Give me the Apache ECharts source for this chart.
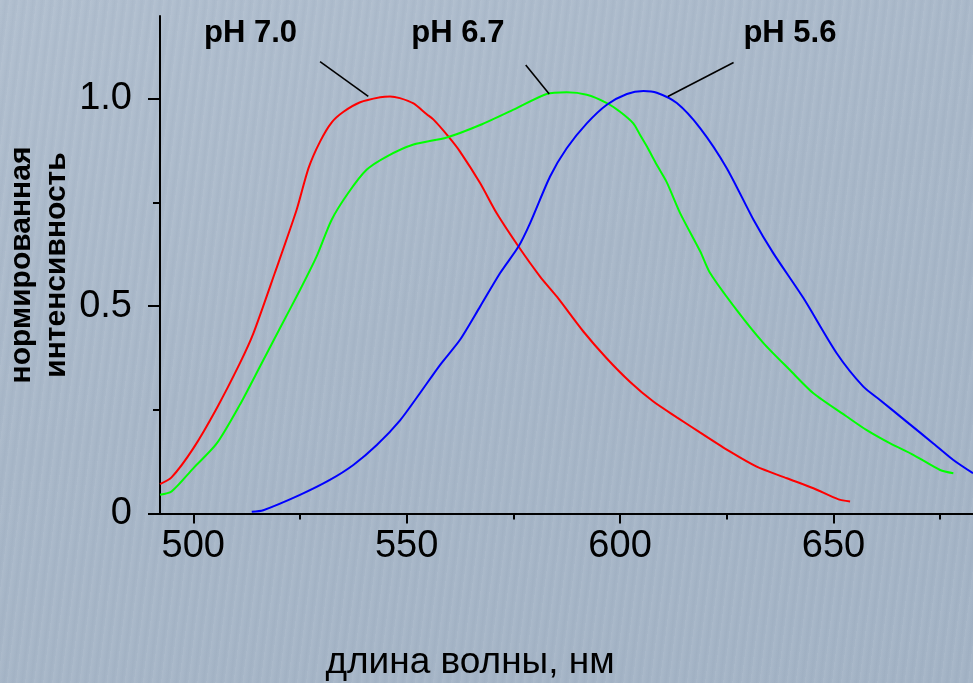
<!DOCTYPE html>
<html>
<head>
<meta charset="utf-8">
<script src="https://cdn.jsdelivr.net/npm/echarts@6/dist/echarts.min.js"></script>
<style>
  html, body { margin: 0; padding: 0; }
  body {
    width: 973px; height: 683px; overflow: hidden;
    background:
      repeating-linear-gradient(97deg, rgba(255,255,255,0.05) 0px, rgba(255,255,255,0.0) 3px, rgba(60,80,110,0.04) 6px, rgba(255,255,255,0.0) 9px),
      linear-gradient(160deg, #b1bfcf 0%, #a9b8c9 45%, #a4b4c6 100%);
  }
  #chart { width: 973px; height: 683px; }
</style>
</head>
<body>
<div id="chart"></div>
<script>
// Emission spectra at three pH values: [wavelength nm, normalised intensity]
const spectrumPH70 = [
  [492.2, 0.071], [494.9, 0.087], [500.0, 0.157], [505.5, 0.254], [510.9, 0.362],
  [514.1, 0.435], [519.1, 0.580], [524.2, 0.732], [527.0, 0.833], [529.7, 0.897],
  [532.4, 0.943], [535.2, 0.969], [539.1, 0.992], [543.8, 1.004], [546.1, 1.006],
  [548.4, 1.002], [551.6, 0.989], [554.7, 0.963], [556.3, 0.950], [559.8, 0.909],
  [562.5, 0.873], [567.2, 0.797], [571.1, 0.724], [576.2, 0.644], [581.3, 0.571],
  [585.2, 0.523], [591.4, 0.439], [596.9, 0.374], [602.3, 0.318], [607.8, 0.270],
  [613.3, 0.232], [618.8, 0.195], [625.8, 0.149], [632.0, 0.113], [639.1, 0.085],
  [645.3, 0.061], [651.2, 0.034], [653.9, 0.029]
];
const spectrumPH67 = [
  [492.2, 0.045], [494.9, 0.053], [500.0, 0.109], [505.5, 0.169], [510.9, 0.262],
  [515.6, 0.354], [520.3, 0.447], [525.0, 0.539], [528.9, 0.620], [532.4, 0.708],
  [536.3, 0.773], [540.6, 0.829], [545.3, 0.861], [551.6, 0.890], [559.4, 0.907],
  [567.2, 0.937], [575.8, 0.978], [582.8, 1.012], [587.5, 1.016], [592.2, 1.010],
  [596.9, 0.990], [600.0, 0.969], [603.1, 0.941], [604.7, 0.913], [606.3, 0.885],
  [608.6, 0.841], [610.9, 0.800], [614.1, 0.724], [618.8, 0.632], [621.1, 0.580],
  [627.3, 0.491], [633.6, 0.411], [639.8, 0.346], [645.3, 0.290], [653.1, 0.234],
  [657.8, 0.201], [663.3, 0.169], [668.8, 0.141], [675.0, 0.105], [678.1, 0.097]
];
const spectrumPH56 = [
  [513.7, 0.004], [516.4, 0.008], [525.0, 0.045], [532.0, 0.081], [537.5, 0.117],
  [543.0, 0.165], [548.4, 0.224], [553.1, 0.290], [557.8, 0.358], [562.5, 0.419],
  [567.2, 0.499], [571.9, 0.580], [576.2, 0.644], [578.9, 0.700], [583.6, 0.813],
  [587.5, 0.881], [592.2, 0.941], [596.9, 0.986], [601.6, 1.012], [605.5, 1.019],
  [608.6, 1.015], [613.3, 0.990], [618.8, 0.929], [625.0, 0.833], [631.3, 0.708],
  [635.9, 0.628], [643.0, 0.519], [650.8, 0.386], [657.0, 0.306], [660.9, 0.274],
  [667.2, 0.221], [673.4, 0.169], [678.1, 0.129], [682.7, 0.097]
];

// Axis ticks and labels
const xMajorTicks = [500, 550, 600, 650];
const xMinorTicks = [525, 575, 625, 675];
const yMajorTicks = [0, 0.5, 1.0];
const yMinorTicks = [0.25, 0.75];
const yTickLabels = ['0', '0.5', '1.0'];
const yAxisTitle = 'нормированная\nинтенсивность';
const xAxisTitle = 'длина волны, нм';

// Curve captions and their leader lines (data coordinates)
const captionText = ['pH 7.0', 'pH 6.7', 'pH 5.6'];
const captionAt = [[513.4, 1.157], [562.0, 1.157], [639.8, 1.157]];
const leaderFrom = [[529.7, 1.090], [577.9, 1.082], [626.6, 1.088]];
const leaderTo = [[541.0, 1.006], [583.4, 1.012], [611.2, 1.006]];

const FONT = '"Liberation Sans", Arial, sans-serif';
const X_MIN = 492.2, X_MAX = 682.7;

const chart = echarts.init(document.getElementById('chart'), null, { renderer: 'canvas' });

const curveSeries = [
  { name: 'pH 7.0', data: spectrumPH70, color: '#ff0000' },
  { name: 'pH 6.7', data: spectrumPH67, color: '#00ff00' },
  { name: 'pH 5.6', data: spectrumPH56, color: '#0000ff' }
].map(s => ({
  type: 'line',
  name: s.name,
  data: s.data,
  showSymbol: false,
  smooth: 0.25,
  lineStyle: { color: s.color, width: 2 },
  itemStyle: { color: s.color },
  z: 3
}));

const leaderSeries = leaderFrom.map((p, i) => ({
  type: 'line',
  data: [p, leaderTo[i]],
  showSymbol: false,
  lineStyle: { color: '#000', width: 1.6 },
  z: 4
}));

const captionSeries = {
  type: 'scatter',
  symbolSize: 0,
  itemStyle: { color: '#000', opacity: 1 },
  data: captionAt.map((p, i) => ({ value: p, name: captionText[i] })),
  label: {
    show: true,
    position: 'inside',
    formatter: p => p.name,
    color: '#000',
    opacity: 1,
    textBorderWidth: 0,
    textBorderColor: 'transparent',
    fontFamily: FONT,
    fontWeight: 'bold',
    fontSize: 31
  },
  z: 5
};

chart.setOption({
  animation: false,
  backgroundColor: 'transparent',
  textStyle: { fontFamily: FONT },
  grid: { left: 160, right: 0, top: 16, bottom: 169.5, containLabel: false, outerBoundsMode: 'none' },
  // vertical axis title, two bold lines reading bottom-to-top
  graphic: [{
    type: 'text',
    x: 39,
    y: 265,
    rotation: Math.PI / 2,
    silent: true,
    style: {
      text: yAxisTitle,
      fill: '#000',
      font: 'bold 30px ' + FONT,
      fontSize: 30,
      fontWeight: 'bold',
      fontFamily: FONT,
      lineHeight: 35,
      align: 'center',
      verticalAlign: 'middle',
      textAlign: 'center',
      textVerticalAlign: 'middle'
    }
  }],
  xAxis: [
    {
      type: 'value',
      min: X_MIN, max: X_MAX,
      position: 'bottom',
      axisLine: { show: true, lineStyle: { color: '#000', width: 2 } },
      axisTick: { show: true, customValues: xMajorTicks, length: 10, lineStyle: { color: '#000', width: 2 } },
      axisLabel: {
        show: true, customValues: xMajorTicks, margin: 14,
        color: '#000', fontSize: 38, fontFamily: FONT,
        formatter: v => String(v)
      },
      splitLine: { show: false },
      name: xAxisTitle,
      nameLocation: 'middle',
      nameGap: 131,
      nameMoveOverlap: false,
      nameTextStyle: { color: '#000', fontSize: 37, fontFamily: FONT, padding: [0, 193, 0, 0] }
    },
    {
      type: 'value',
      min: X_MIN, max: X_MAX,
      position: 'bottom',
      axisLine: { show: false },
      axisTick: { show: true, customValues: xMinorTicks, length: 6, lineStyle: { color: '#000', width: 2 } },
      axisLabel: { show: false },
      splitLine: { show: false }
    }
  ],
  yAxis: [
    {
      type: 'value',
      min: 0, max: 1.2,
      position: 'left',
      axisLine: { show: true, lineStyle: { color: '#000', width: 2 } },
      axisTick: { show: true, customValues: yMajorTicks, length: 12, lineStyle: { color: '#000', width: 2 } },
      axisLabel: {
        show: true, customValues: yMajorTicks, margin: 28,
        color: '#000', fontSize: 38, fontFamily: FONT,
        formatter: v => yTickLabels[yMajorTicks.findIndex(t => Math.abs(t - v) < 1e-9)]
      },
      splitLine: { show: false }
    },
    {
      type: 'value',
      min: 0, max: 1.2,
      position: 'left',
      axisLine: { show: false },
      axisTick: { show: true, customValues: yMinorTicks, length: 7, lineStyle: { color: '#000', width: 2 } },
      axisLabel: { show: false },
      splitLine: { show: false }
    }
  ],
  series: [...curveSeries, ...leaderSeries, captionSeries]
});
</script>
</body>
</html>
